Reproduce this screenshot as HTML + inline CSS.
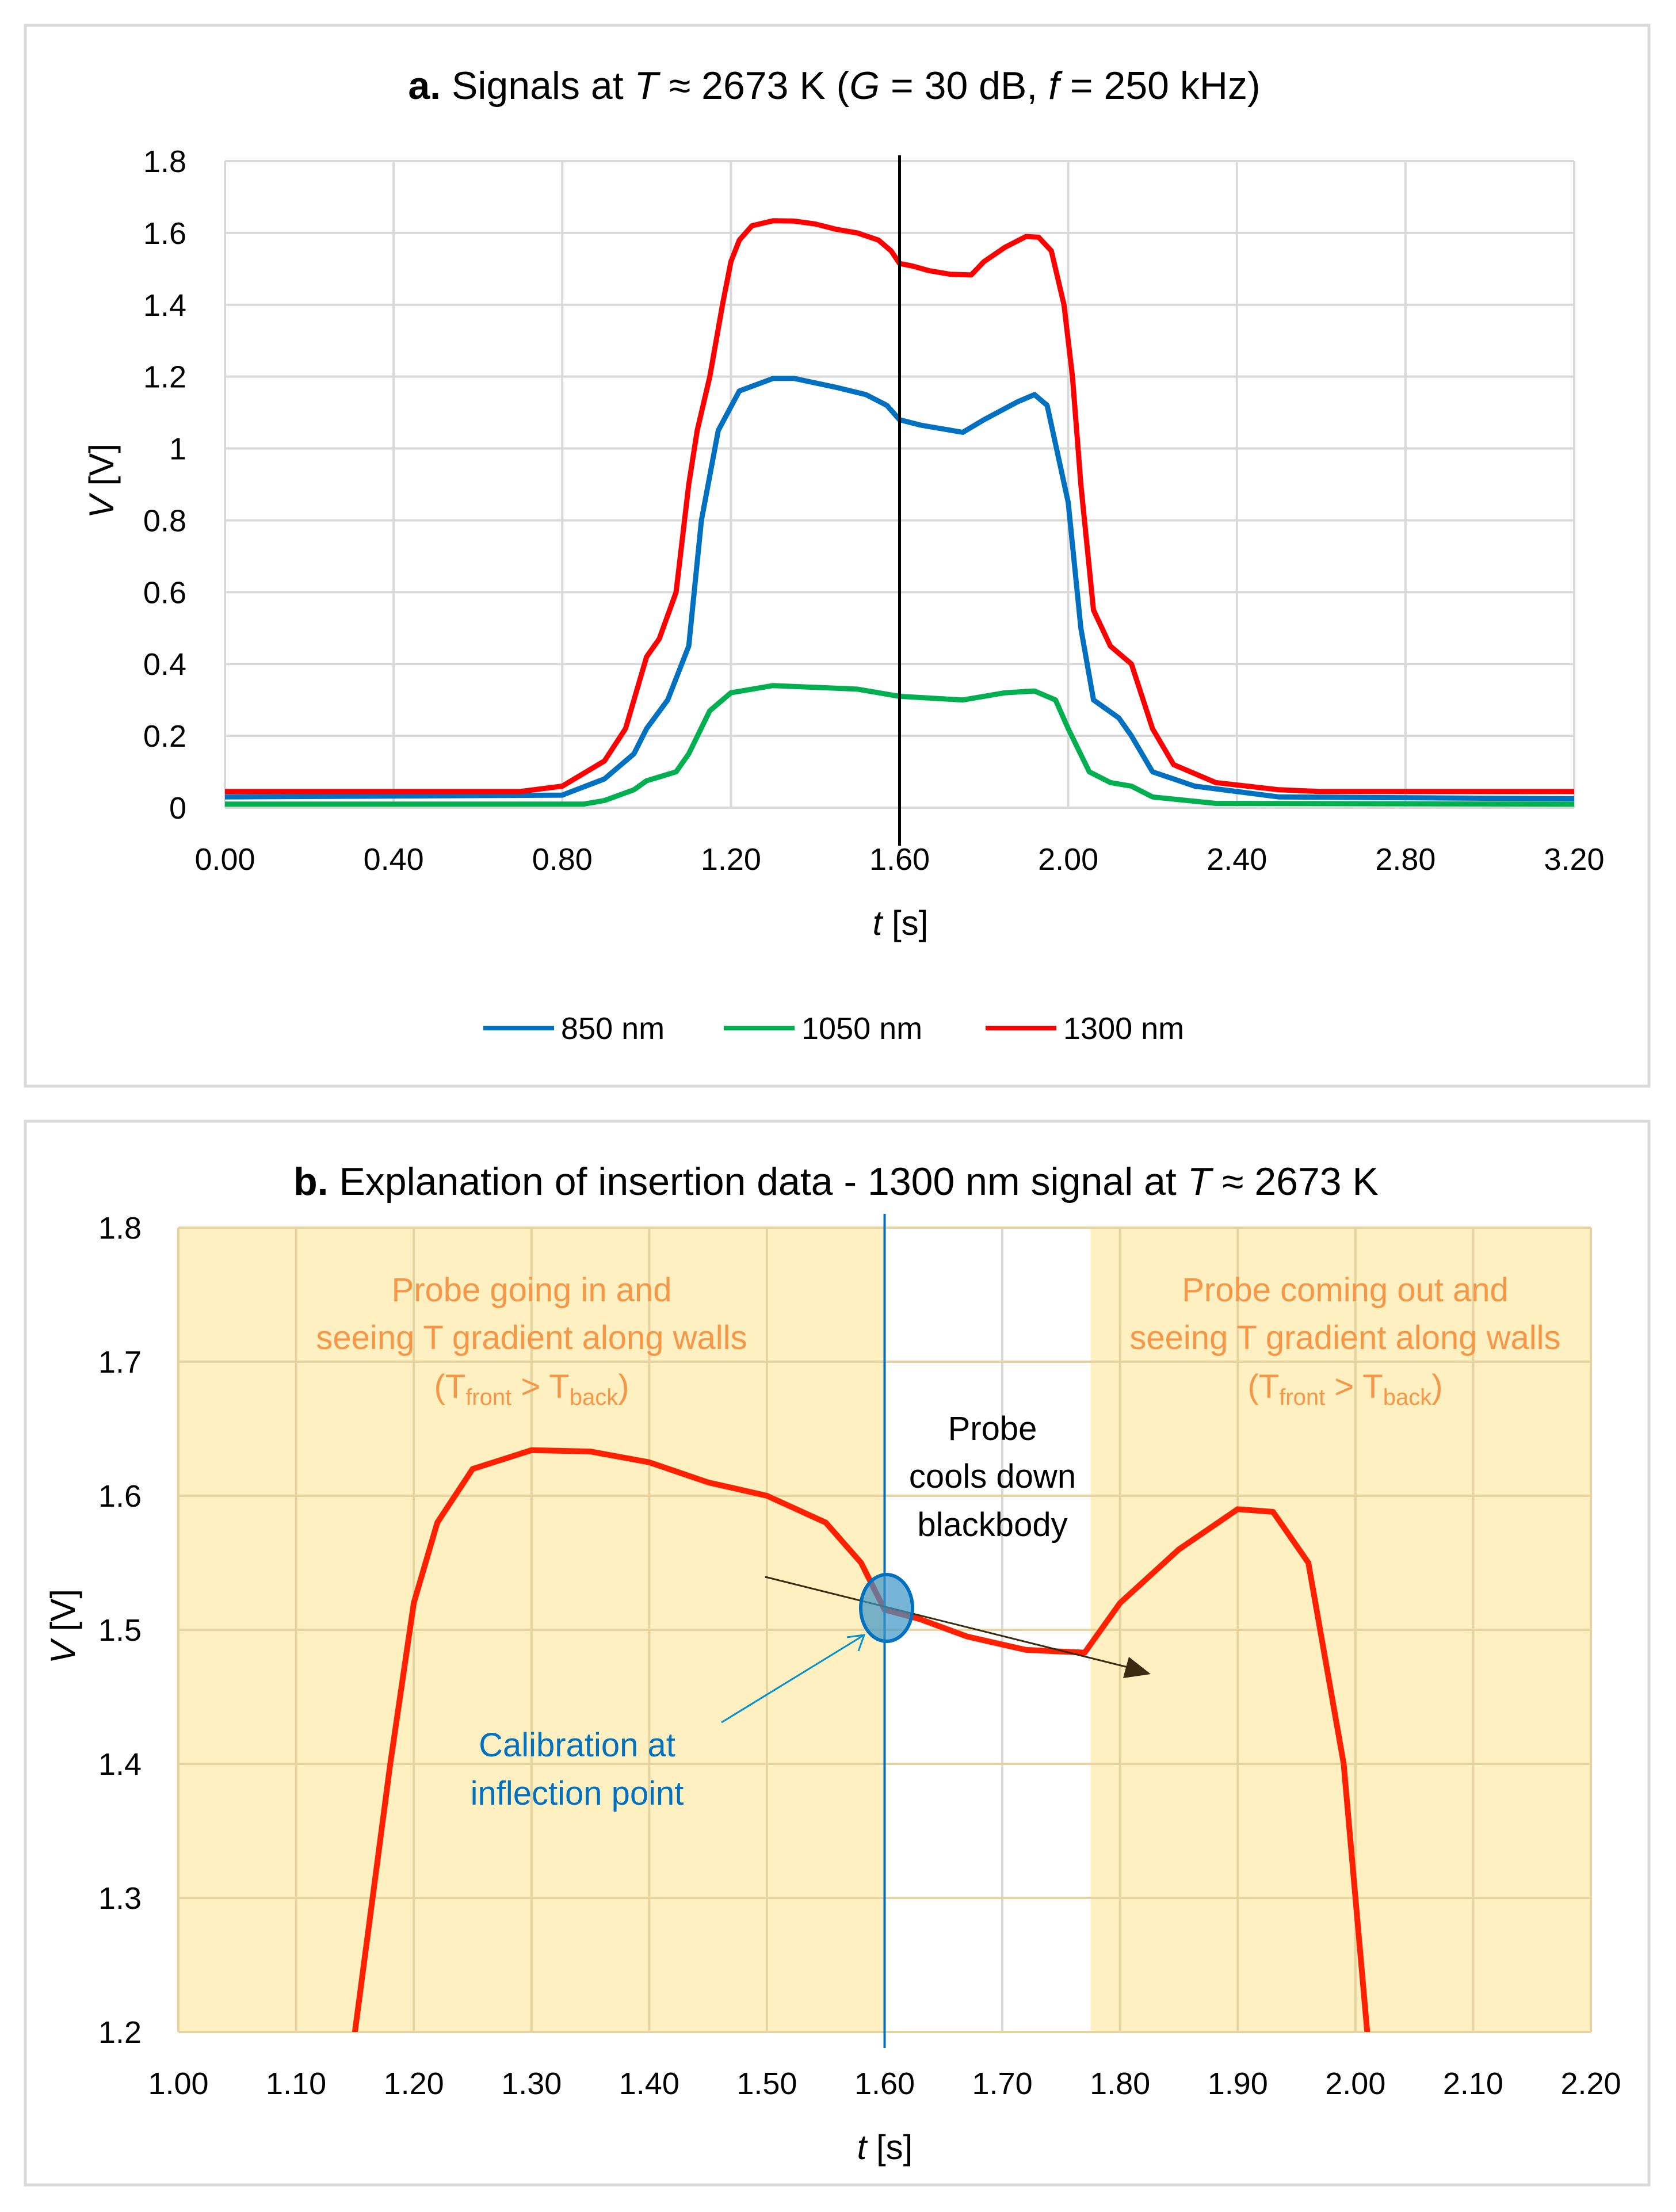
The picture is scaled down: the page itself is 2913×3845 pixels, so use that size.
<!DOCTYPE html>
<html><head><meta charset="utf-8"><style>
html,body{margin:0;padding:0;background:#fff;width:2913px;height:3845px;overflow:hidden}
svg{display:block;font-family:"Liberation Sans",sans-serif}
</style></head><body>
<svg id="s" width="2913" height="3845" viewBox="0 0 2913 3845" xmlns="http://www.w3.org/2000/svg">
<rect x="44" y="44" width="2822" height="1844" fill="#fff" stroke="#d9d9d9" stroke-width="5"/>
<rect x="44" y="1949" width="2822" height="1849" fill="#fff" stroke="#d9d9d9" stroke-width="5"/>
<g id="ga"></g>
<g id="gb"></g>
<text x="1450" y="172" font-size="68" text-anchor="middle" fill="#000"><tspan font-weight="bold">a.</tspan> Signals at <tspan font-style="italic">T</tspan> ≈ 2673 K (<tspan font-style="italic">G</tspan> = 30 dB, <tspan font-style="italic">f</tspan> = 250 kHz)</text>
<text x="1565" y="1625" font-size="60" text-anchor="middle"><tspan font-style="italic">t</tspan> [s]</text>
<text transform="translate(197,836) rotate(-90)" font-size="60" text-anchor="middle"><tspan font-style="italic">V</tspan> [V]</text>
<g>
<line x1="840" y1="1787" x2="963" y2="1787" stroke="#0070C0" stroke-width="8"/>
<text x="975" y="1806" font-size="54">850 nm</text>
<line x1="1258" y1="1787" x2="1381" y2="1787" stroke="#00B050" stroke-width="8"/>
<text x="1393" y="1806" font-size="54">1050 nm</text>
<line x1="1713" y1="1787" x2="1836" y2="1787" stroke="#FF0000" stroke-width="8"/>
<text x="1848" y="1806" font-size="54">1300 nm</text>
</g>
<text x="1453" y="2077" font-size="68" text-anchor="middle"><tspan font-weight="bold">b.</tspan> Explanation of insertion data - 1300 nm signal at <tspan font-style="italic">T</tspan> ≈ 2673 K</text>
<text x="1538" y="3753" font-size="60" text-anchor="middle"><tspan font-style="italic">t</tspan> [s]</text>
<text transform="translate(130,2827) rotate(-90)" font-size="60" text-anchor="middle"><tspan font-style="italic">V</tspan> [V]</text>
</svg>
<script>
const tA=[0,0.7,0.8,0.9,0.95,1.0,1.03,1.07,1.1,1.12,1.14,1.15,1.18,1.2,1.22,1.25,1.3,1.35,1.4,1.45,1.5,1.55,1.58,1.6,1.63,1.67,1.72,1.77,1.8,1.85,1.9,1.93,1.96,1.99,2.01,2.03,2.06,2.1,2.15,2.2,2.25,2.35,2.5,2.6,3.2];
const v1300=[0.045,0.045,0.06,0.13,0.22,0.42,0.47,0.6,0.9,1.05,1.15,1.2,1.4,1.52,1.58,1.62,1.634,1.633,1.625,1.61,1.6,1.58,1.55,1.515,1.508,1.495,1.485,1.483,1.52,1.56,1.59,1.588,1.55,1.4,1.2,0.9,0.55,0.45,0.4,0.22,0.12,0.07,0.05,0.045,0.045];
const t850=[0,0.8,0.9,0.97,1.0,1.05,1.1,1.13,1.17,1.22,1.3,1.35,1.45,1.52,1.57,1.6,1.65,1.75,1.8,1.88,1.92,1.95,2.0,2.03,2.06,2.12,2.15,2.2,2.3,2.5,3.2];
const v850=[0.03,0.035,0.08,0.15,0.22,0.3,0.45,0.8,1.05,1.16,1.195,1.195,1.17,1.15,1.12,1.08,1.065,1.045,1.08,1.13,1.15,1.12,0.85,0.5,0.3,0.25,0.2,0.1,0.06,0.03,0.025];
const t1050=[0,0.85,0.9,0.97,1.0,1.07,1.1,1.15,1.2,1.3,1.4,1.5,1.6,1.75,1.85,1.92,1.97,2.0,2.05,2.1,2.15,2.2,2.35,3.2];
const v1050=[0.01,0.01,0.02,0.05,0.075,0.1,0.15,0.27,0.32,0.34,0.335,0.33,0.31,0.3,0.32,0.325,0.3,0.22,0.1,0.07,0.06,0.03,0.012,0.01];
const xTicksA=["0.00","0.40","0.80","1.20","1.60","2.00","2.40","2.80","3.20"];
const yTicksA=["0","0.2","0.4","0.6","0.8","1","1.2","1.4","1.6","1.8"];
const xTicksB=["1.00","1.10","1.20","1.30","1.40","1.50","1.60","1.70","1.80","1.90","2.00","2.10","2.20"];
const yTicksB=["1.2","1.3","1.4","1.5","1.6","1.7","1.8"];
const NS="http://www.w3.org/2000/svg";
function mk(p,tag,at){const e=document.createElementNS(NS,tag);for(const k in at)e.setAttribute(k,at[k]);p.appendChild(e);return e;}
const ga=document.getElementById('ga');
const xa=t=>391+(t/3.2)*(2736-391), ya=v=>1404-(v/1.8)*(1404-280);
xTicksA.forEach(s=>{const x=xa(+s);
 const l=mk(ga,'line',{x1:x,y1:280,x2:x,y2:1404,stroke:'#d9d9d9','stroke-width':4});
 
 
 const t=mk(ga,'text',{x:x,y:1512,'font-size':54,'text-anchor':'middle'});t.textContent=s;
 
 });
yTicksA.forEach(s=>{const y=ya(+s);
 const l=mk(ga,'line',{x1:391,y1:y,x2:2736,y2:y,stroke:'#d9d9d9','stroke-width':4});
 
 
 const t=mk(ga,'text',{x:324,y:y+19,'font-size':54,'text-anchor':'end'});t.textContent=s;
 
 });
[[t850,v850,'#0070C0','series-850nm'],[t1050,v1050,'#00B050','series-1050nm'],[tA,v1300,'#FF0000','series-1300nm']].forEach(([ts,vs,c,n])=>{
 const d=ts.map((t,i)=>(i?'L':'M')+xa(t).toFixed(1)+','+ya(vs[i]).toFixed(1)).join('');
 const p=mk(ga,'path',{d:d,fill:'none',stroke:c,'stroke-width':9,'stroke-linejoin':'round'});
 
 });
const vl=mk(ga,'line',{x1:xa(1.6),y1:270,x2:xa(1.6),y2:1470,stroke:'#000','stroke-width':5});


const gb=document.getElementById('gb');
const xb=t=>310+((t-1)/1.2)*(2765-310), yb=v=>3532-((v-1.2)/0.6)*(3532-2134);
const s1=mk(gb,'rect',{x:xb(1),y:2134,width:xb(1.6)-xb(1),height:3532-2134,fill:'#FEF0C0'});


const s2=mk(gb,'rect',{x:xb(1.775),y:2134,width:xb(2.2)-xb(1.775),height:3532-2134,fill:'#FEF0C0'});


xTicksB.forEach(s=>{const x=xb(+s);
 const l=mk(gb,'line',{x1:x,y1:2134,x2:x,y2:3532,stroke:(+s>1.6&&+s<1.775)?'#d9d9d9':'#E6D3A0','stroke-width':4});
 
 
 const t=mk(gb,'text',{x:x,y:3640,'font-size':54,'text-anchor':'middle'});t.textContent=s;
 
 });
yTicksB.forEach(s=>{const y=yb(+s);
 const l=mk(gb,'line',{x1:310,y1:y,x2:2765,y2:y,stroke:'#E6D3A0','stroke-width':4});
 
 
 const t=mk(gb,'text',{x:246,y:y+19,'font-size':54,'text-anchor':'end'});t.textContent=s;
 
 });
const cp=mk(gb,'clipPath',{id:'cb'});mk(cp,'rect',{x:310,y:2134,width:2455,height:1398});
const db=tA.map((t,i)=>(i?'L':'M')+xb(t).toFixed(1)+','+yb(v1300[i]).toFixed(1)).join('');
const pb=mk(gb,'path',{d:db,fill:'none',stroke:'#FF2000','stroke-width':10,'stroke-linejoin':'round','clip-path':'url(#cb)'});


const bl=mk(gb,'line',{x1:xb(1.6),y1:2110,x2:xb(1.6),y2:3560,stroke:'#0070C0','stroke-width':4});


const ar=mk(gb,'line',{x1:1330,y1:2741,x2:1960,y2:2898,stroke:'#3a2a10','stroke-width':3});


const ah=mk(gb,'polygon',{points:'2000,2910 1952,2917 1962,2880',fill:'#3a2a10'});


const el=mk(gb,'ellipse',{cx:1541,cy:2795,rx:45,ry:58,fill:'rgba(60,150,200,0.7)',stroke:'#0070C0','stroke-width':6});


const ba=mk(gb,'line',{x1:1254,y1:2994,x2:1502,y2:2842,stroke:'#0090D0','stroke-width':3});


const bh=mk(gb,'polyline',{points:'1472,2846 1502,2842 1492,2870',fill:'none',stroke:'#0090D0','stroke-width':3});


function txt(x,y,s,c,n,sz){const t=mk(gb,'text',{x:x,y:y,'font-size':sz||58,'text-anchor':'middle',fill:c});t.innerHTML=s;
 
 return t;}
const OR='#F79646';
txt(924,2262,'Probe going in and',OR,'annotation-going-in-line1');
txt(924,2345,'seeing T gradient along walls',OR,'annotation-going-in-line2');
txt(924,2430,'(T<tspan font-size="40" dy="12">front</tspan><tspan dy="-12"> &gt; T</tspan><tspan font-size="40" dy="12">back</tspan><tspan dy="-12">)</tspan>',OR,'annotation-going-in-line3');
txt(2338,2262,'Probe coming out and',OR,'annotation-coming-out-line1');
txt(2338,2345,'seeing T gradient along walls',OR,'annotation-coming-out-line2');
txt(2338,2430,'(T<tspan font-size="40" dy="12">front</tspan><tspan dy="-12"> &gt; T</tspan><tspan font-size="40" dy="12">back</tspan><tspan dy="-12">)</tspan>',OR,'annotation-coming-out-line3');
txt(1725,2503,'Probe','#000','annotation-cools-line1');
txt(1725,2586,'cools down','#000','annotation-cools-line2');
txt(1725,2670,'blackbody','#000','annotation-cools-line3');
txt(1003,3053,'Calibration at','#0070C0','annotation-calibration-line1');
txt(1003,3137,'inflection point','#0070C0','annotation-calibration-line2');
</script>
</body></html>
